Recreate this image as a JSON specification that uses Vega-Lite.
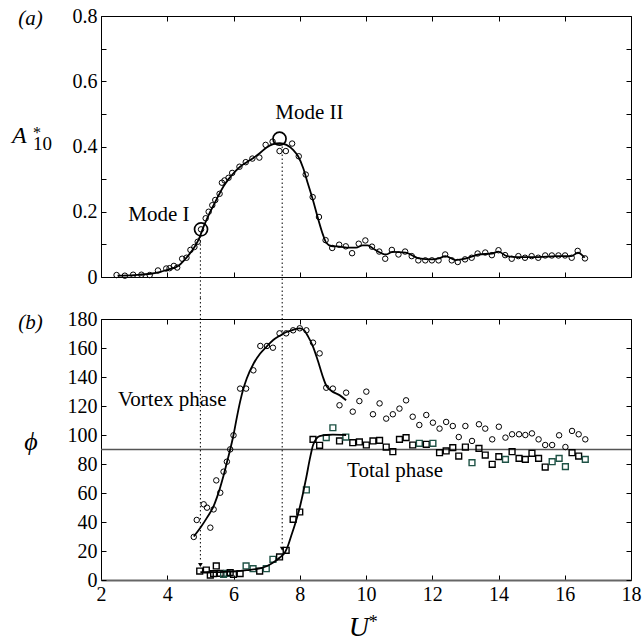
{
  "$schema": "https://vega.github.io/schema/vega-lite/v6.json",
  "background": "white",
  "padding": {"left": 11, "top": 5, "right": 5, "bottom": 2},
  "bounds": "flush",
  "spacing": 42,
  "config": {
    "font": "Liberation Serif",
    "view": {"stroke": "black", "strokeWidth": 1},
    "axis": {"labelFont": "Liberation Serif", "labelFontSize": 20, "labelColor": "black", "tickColor": "black", "tickSize": -5, "tickWidth": 1, "domain": false, "grid": false, "labelFlush": false, "labelOverlap": false, "title": null},
    "text": {"font": "Liberation Serif", "color": "black"}
  },
  "datasets": {
    "amp": [
      {"x":2.47,"y":0.006},{"x":2.72,"y":0.004},{"x":2.97,"y":0.007},{"x":3.22,"y":0.007},{"x":3.47,"y":0.006},{"x":3.72,"y":0.02},{"x":3.97,"y":0.026},{"x":4.07,"y":0.027},{"x":4.2,"y":0.034},{"x":4.3,"y":0.029},{"x":4.45,"y":0.056},{"x":4.58,"y":0.059},{"x":4.7,"y":0.083},{"x":4.82,"y":0.092},{"x":4.92,"y":0.108},{"x":5.02,"y":0.146},{"x":5.16,"y":0.18},{"x":5.25,"y":0.2},{"x":5.36,"y":0.22},{"x":5.45,"y":0.236},{"x":5.58,"y":0.255},{"x":5.65,"y":0.289},{"x":5.73,"y":0.296},{"x":5.85,"y":0.304},{"x":5.96,"y":0.319},{"x":6.18,"y":0.338},{"x":6.37,"y":0.352},{"x":6.57,"y":0.363},{"x":6.78,"y":0.366},{"x":6.97,"y":0.405},{"x":7.18,"y":0.415},{"x":7.39,"y":0.386},{"x":7.58,"y":0.386},{"x":7.77,"y":0.409},{"x":7.97,"y":0.37},{"x":8.18,"y":0.314},{"x":8.39,"y":0.245},{"x":8.58,"y":0.184},{"x":8.78,"y":0.113},{"x":8.98,"y":0.089},{"x":9.19,"y":0.099},{"x":9.39,"y":0.094},{"x":9.58,"y":0.073},{"x":9.78,"y":0.102},{"x":9.98,"y":0.112},{"x":10.18,"y":0.093},{"x":10.4,"y":0.078},{"x":10.58,"y":0.056},{"x":10.78,"y":0.083},{"x":10.98,"y":0.069},{"x":11.18,"y":0.078},{"x":11.38,"y":0.064},{"x":11.58,"y":0.051},{"x":11.79,"y":0.051},{"x":11.99,"y":0.051},{"x":12.19,"y":0.051},{"x":12.39,"y":0.069},{"x":12.59,"y":0.051},{"x":12.77,"y":0.046},{"x":12.99,"y":0.054},{"x":13.19,"y":0.059},{"x":13.37,"y":0.072},{"x":13.6,"y":0.075},{"x":13.8,"y":0.067},{"x":14.0,"y":0.082},{"x":14.2,"y":0.067},{"x":14.4,"y":0.056},{"x":14.6,"y":0.064},{"x":14.8,"y":0.059},{"x":15.0,"y":0.064},{"x":15.2,"y":0.059},{"x":15.41,"y":0.066},{"x":15.61,"y":0.066},{"x":15.81,"y":0.066},{"x":16.01,"y":0.066},{"x":16.21,"y":0.059},{"x":16.39,"y":0.08},{"x":16.61,"y":0.057}
    ],
    "ampfit": [
      {"x":2.5,"y":0.004},{"x":3.0,"y":0.006},{"x":3.5,"y":0.01},{"x":3.8,"y":0.016},{"x":4.0,"y":0.022},{"x":4.2,"y":0.028},{"x":4.35,"y":0.035},{"x":4.5,"y":0.05},{"x":4.65,"y":0.068},{"x":4.8,"y":0.088},{"x":4.95,"y":0.115},{"x":5.1,"y":0.155},{"x":5.25,"y":0.19},{"x":5.4,"y":0.22},{"x":5.55,"y":0.25},{"x":5.7,"y":0.278},{"x":5.85,"y":0.3},{"x":6.0,"y":0.318},{"x":6.2,"y":0.338},{"x":6.4,"y":0.352},{"x":6.6,"y":0.365},{"x":6.8,"y":0.38},{"x":7.0,"y":0.397},{"x":7.2,"y":0.407},{"x":7.4,"y":0.41},{"x":7.6,"y":0.405},{"x":7.8,"y":0.39},{"x":7.95,"y":0.37},{"x":8.1,"y":0.335},{"x":8.25,"y":0.285},{"x":8.4,"y":0.235},{"x":8.55,"y":0.18},{"x":8.7,"y":0.13},{"x":8.8,"y":0.105},{"x":8.95,"y":0.095},{"x":9.2,"y":0.093},{"x":9.5,"y":0.09},{"x":9.7,"y":0.09},{"x":9.9,"y":0.097},{"x":10.05,"y":0.097},{"x":10.25,"y":0.085},{"x":10.6,"y":0.069},{"x":10.8,"y":0.077},{"x":11.2,"y":0.075},{"x":11.4,"y":0.066},{"x":11.6,"y":0.057},{"x":12.0,"y":0.054},{"x":12.2,"y":0.057},{"x":12.4,"y":0.064},{"x":12.7,"y":0.052},{"x":13.0,"y":0.056},{"x":13.4,"y":0.069},{"x":13.8,"y":0.072},{"x":14.0,"y":0.078},{"x":14.25,"y":0.064},{"x":14.55,"y":0.061},{"x":15.2,"y":0.061},{"x":15.75,"y":0.064},{"x":16.2,"y":0.064},{"x":16.4,"y":0.075},{"x":16.6,"y":0.059}
    ],
    "modes": [{"x":5.02,"y":0.146},{"x":7.39,"y":0.424}],
    "dotsA": [{"x":5.0,"y":0.125,"y2":-0.0644},{"x":7.47,"y":0.4,"y2":-0.0644}],
    "annA": [{"x":3.75,"y":0.172,"t":"Mode I"},{"x":8.29,"y":0.484,"t":"Mode II"}],
    "labA": [{"x":-0.13,"y":0.792,"t":"(a)"}],
    "titA": [{"x":-0.684,"y":0.411,"t":"A"}],
    "supA": [{"x":-0.05,"y":0.426,"t":"*"}],
    "subA": [{"x":-0.05,"y":0.389,"t":"10"}],
    "vortex": [
      {"x":4.8,"y":29.7},{"x":4.89,"y":41.4},{"x":5.1,"y":52.2},{"x":5.2,"y":49.9},{"x":5.3,"y":36.1},{"x":5.4,"y":48.7},{"x":5.48,"y":68.7},{"x":5.6,"y":60.2},{"x":5.7,"y":74.7},{"x":5.8,"y":81.6},{"x":5.9,"y":90.1},{"x":6.0,"y":99.8},{"x":6.2,"y":132},{"x":6.38,"y":132},{"x":6.6,"y":144.6},{"x":6.81,"y":161.4},{"x":7.01,"y":161.4},{"x":7.19,"y":160.2},{"x":7.39,"y":170.1},{"x":7.59,"y":170.1},{"x":7.8,"y":172.2},{"x":8.0,"y":173.6},{"x":8.2,"y":172.2},{"x":8.4,"y":163.7},{"x":8.6,"y":156.3},{"x":8.8,"y":132.6},{"x":9.0,"y":132},{"x":9.2,"y":120.5},{"x":9.4,"y":129.2},{"x":9.6,"y":116.1},{"x":9.8,"y":123.4},{"x":10.01,"y":129.9},{"x":10.21,"y":114.3},{"x":10.41,"y":121.8},{"x":10.61,"y":111.3},{"x":10.81,"y":114.3},{"x":11.01,"y":118.2},{"x":11.21,"y":123.9},{"x":11.41,"y":112.6},{"x":11.61,"y":106.9},{"x":11.82,"y":113.8},{"x":12.02,"y":108.5},{"x":12.22,"y":104.4},{"x":12.42,"y":109},{"x":12.62,"y":106.2},{"x":12.8,"y":98.6},{"x":13.0,"y":106.2},{"x":13.2,"y":95.9},{"x":13.41,"y":107.4},{"x":13.6,"y":104.4},{"x":13.81,"y":97},{"x":14.01,"y":105.7},{"x":14.21,"y":98.2},{"x":14.41,"y":100.5},{"x":14.62,"y":100.5},{"x":14.81,"y":100},{"x":15.01,"y":101.1},{"x":15.21,"y":97},{"x":15.41,"y":93.1},{"x":15.62,"y":93.1},{"x":15.83,"y":99.8},{"x":16.02,"y":91.7},{"x":16.22,"y":102.8},{"x":16.42,"y":100.5},{"x":16.62,"y":97}
    ],
    "vortexfit": [
      {"x":4.8,"y":30},{"x":5.0,"y":36},{"x":5.2,"y":43},{"x":5.4,"y":51},{"x":5.5,"y":57},{"x":5.6,"y":64},{"x":5.7,"y":72},{"x":5.8,"y":81},{"x":5.9,"y":90},{"x":6.0,"y":100},{"x":6.1,"y":112},{"x":6.2,"y":123},{"x":6.3,"y":132},{"x":6.4,"y":139},{"x":6.6,"y":149},{"x":6.8,"y":156},{"x":7.0,"y":161},{"x":7.2,"y":165.5},{"x":7.4,"y":168.5},{"x":7.6,"y":171},{"x":7.8,"y":172.5},{"x":8.0,"y":173.5},{"x":8.12,"y":172.5},{"x":8.25,"y":168},{"x":8.4,"y":161},{"x":8.55,"y":151},{"x":8.7,"y":140},{"x":8.8,"y":134},{"x":8.95,"y":130.5},{"x":9.2,"y":127.5},{"x":9.4,"y":124}
    ],
    "total": [
      {"x":4.98,"y":6.2,"g":"k"},{"x":5.18,"y":6.9,"g":"k"},{"x":5.3,"y":3.4,"g":"k"},{"x":5.4,"y":4.4,"g":"k"},{"x":5.48,"y":9.7,"g":"k"},{"x":5.6,"y":4.6,"g":"k"},{"x":5.7,"y":3.9,"g":"g"},{"x":5.8,"y":4.6,"g":"g"},{"x":5.9,"y":5.1,"g":"k"},{"x":6.0,"y":3.9,"g":"k"},{"x":6.2,"y":4.4,"g":"k"},{"x":6.38,"y":9.7,"g":"g"},{"x":6.59,"y":7.8,"g":"g"},{"x":6.79,"y":6.2,"g":"k"},{"x":6.99,"y":7.8,"g":"g"},{"x":7.19,"y":14.3,"g":"g"},{"x":7.39,"y":15.9,"g":"k"},{"x":7.59,"y":20.5,"g":"k"},{"x":7.8,"y":41.8,"g":"k"},{"x":8.0,"y":46.9,"g":"k"},{"x":8.2,"y":62.1,"g":"g"},{"x":8.4,"y":97,"g":"k"},{"x":8.6,"y":92.9,"g":"k"},{"x":8.8,"y":98.2,"g":"g"},{"x":9.0,"y":105,"g":"g"},{"x":9.2,"y":95.9,"g":"k"},{"x":9.39,"y":98.6,"g":"g"},{"x":9.6,"y":94.7,"g":"k"},{"x":9.8,"y":95.2,"g":"k"},{"x":10.01,"y":93.1,"g":"k"},{"x":10.21,"y":95.9,"g":"k"},{"x":10.41,"y":96.3,"g":"k"},{"x":10.61,"y":91.7,"g":"k"},{"x":10.81,"y":88.5,"g":"k"},{"x":11.01,"y":97,"g":"k"},{"x":11.21,"y":98.2,"g":"k"},{"x":11.41,"y":93.1,"g":"k"},{"x":11.61,"y":94.3,"g":"g"},{"x":11.82,"y":93.6,"g":"k"},{"x":12.02,"y":94.3,"g":"g"},{"x":12.22,"y":87.8,"g":"k"},{"x":12.42,"y":89,"g":"k"},{"x":12.62,"y":91.3,"g":"k"},{"x":12.8,"y":85.5,"g":"k"},{"x":13.0,"y":91.7,"g":"k"},{"x":13.2,"y":80.9,"g":"g"},{"x":13.41,"y":90.8,"g":"k"},{"x":13.6,"y":86.2,"g":"k"},{"x":13.81,"y":79.8,"g":"k"},{"x":14.01,"y":85.1,"g":"k"},{"x":14.21,"y":83.2,"g":"g"},{"x":14.41,"y":88.5,"g":"k"},{"x":14.62,"y":83.9,"g":"k"},{"x":14.81,"y":83.2,"g":"k"},{"x":15.01,"y":87.4,"g":"k"},{"x":15.21,"y":83.9,"g":"k"},{"x":15.41,"y":77.9,"g":"k"},{"x":15.62,"y":81.6,"g":"g"},{"x":15.83,"y":83.9,"g":"g"},{"x":16.02,"y":78.2,"g":"g"},{"x":16.22,"y":87.8,"g":"k"},{"x":16.42,"y":85.5,"g":"k"},{"x":16.62,"y":83.2,"g":"g"}
    ],
    "totalfit": [
      {"x":5.0,"y":5.5},{"x":5.5,"y":5.5},{"x":6.0,"y":6},{"x":6.4,"y":6.8},{"x":6.8,"y":8},{"x":7.0,"y":9.5},{"x":7.2,"y":12},{"x":7.4,"y":15.5},{"x":7.55,"y":19},{"x":7.65,"y":24},{"x":7.75,"y":31},{"x":7.85,"y":38},{"x":8.0,"y":50},{"x":8.1,"y":60},{"x":8.2,"y":71},{"x":8.3,"y":83},{"x":8.4,"y":93},{"x":8.5,"y":97.5},{"x":8.6,"y":99.3},{"x":8.8,"y":100},{"x":9.0,"y":100.3},{"x":9.4,"y":100}
    ],
    "hline": [{"y":90}],
    "dotsB": [{"x":5.0,"y":194.5,"y2":12.5},{"x":7.47,"y":194.5,"y2":24}],
    "arrows": [{"x":5.0,"y":10.3},{"x":7.47,"y":21.5}],
    "annB": [{"x":2.51,"y":120,"t":"Vortex phase"},{"x":9.43,"y":71,"t":"Total phase"}],
    "labB": [{"x":-0.13,"y":177.2,"t":"(b)"}],
    "phiB": [{"x":-0.11,"y":95.2,"t":"ϕ"}],
    "titU": [{"x":9.48,"y":-38.5,"t":"U"}],
    "supU": [{"x":10.08,"y":-33,"t":"*"}]
  },
  "vconcat": [
    {
      "width": 530,
      "height": 261,
      "resolve": {"axis": {"x": "independent", "y": "independent"}},
      "layer": [
        {
          "data": {"name": "amp"},
          "mark": {"type": "point", "shape": "circle", "filled": false, "color": "black", "size": 30, "strokeWidth": 1, "opacity": 1},
          "encoding": {
            "x": {"field": "x", "type": "quantitative", "scale": {"domain": [2, 18], "nice": false, "zero": false},
                  "axis": {"orient": "bottom", "values": [2,4,6,8,10,12,14,16,18], "labels": false}},
            "y": {"field": "y", "type": "quantitative", "scale": {"domain": [0, 0.8], "nice": false, "zero": false},
                  "axis": {"orient": "left", "values": [0,0.1,0.2,0.3,0.4,0.5,0.6,0.7,0.8], "labelPadding": 9,
                           "labelExpr": "abs(datum.value*10 - 2*round(datum.value*5)) < 0.01 ? (datum.value == 0 ? '0' : format(datum.value, '.1f')) : ''"}}
          }
        },
        {
          "data": {"name": "ampfit"},
          "mark": {"type": "line", "color": "black", "strokeWidth": 1.8, "interpolate": "monotone"},
          "encoding": {
            "x": {"field": "x", "type": "quantitative", "scale": {"domain": [2, 18], "nice": false, "zero": false},
                  "axis": {"orient": "top", "values": [2,4,6,8,10,12,14,16,18], "labels": false}},
            "y": {"field": "y", "type": "quantitative", "scale": {"domain": [0, 0.8], "nice": false, "zero": false},
                  "axis": {"orient": "right", "values": [0,0.1,0.2,0.3,0.4,0.5,0.6,0.7,0.8], "labels": false}}
          }
        },
        {
          "data": {"name": "modes"},
          "mark": {"type": "point", "shape": "circle", "filled": false, "color": "black", "size": 170, "strokeWidth": 1.7, "opacity": 1},
          "encoding": {
            "x": {"field": "x", "type": "quantitative", "axis": null},
            "y": {"field": "y", "type": "quantitative", "axis": null}
          }
        },
        {
          "data": {"name": "dotsA"},
          "mark": {"type": "rule", "color": "black", "strokeWidth": 1, "strokeDash": [1.5, 2.5]},
          "encoding": {
            "x": {"field": "x", "type": "quantitative", "axis": null},
            "y": {"field": "y", "type": "quantitative", "axis": null},
            "y2": {"field": "y2"}
          }
        },
        {
          "data": {"name": "annA"},
          "mark": {"type": "text", "fontSize": 21, "align": "center", "baseline": "alphabetic"},
          "encoding": {
            "x": {"field": "x", "type": "quantitative", "axis": null},
            "y": {"field": "y", "type": "quantitative", "axis": null},
            "text": {"field": "t"}
          }
        },
        {
          "data": {"name": "labA"},
          "mark": {"type": "text", "fontSize": 21, "fontStyle": "italic", "align": "center", "baseline": "middle"},
          "encoding": {
            "x": {"field": "x", "type": "quantitative", "axis": null},
            "y": {"field": "y", "type": "quantitative", "axis": null},
            "text": {"field": "t"}
          }
        },
        {
          "data": {"name": "titA"},
          "mark": {"type": "text", "fontSize": 24, "fontStyle": "italic", "align": "left", "baseline": "alphabetic"},
          "encoding": {
            "x": {"field": "x", "type": "quantitative", "axis": null},
            "y": {"field": "y", "type": "quantitative", "axis": null},
            "text": {"field": "t"}
          }
        },
        {
          "data": {"name": "supA"},
          "mark": {"type": "text", "fontSize": 16, "align": "left", "baseline": "alphabetic"},
          "encoding": {
            "x": {"field": "x", "type": "quantitative", "axis": null},
            "y": {"field": "y", "type": "quantitative", "axis": null},
            "text": {"field": "t"}
          }
        },
        {
          "data": {"name": "subA"},
          "mark": {"type": "text", "fontSize": 19, "align": "left", "baseline": "alphabetic"},
          "encoding": {
            "x": {"field": "x", "type": "quantitative", "axis": null},
            "y": {"field": "y", "type": "quantitative", "axis": null},
            "text": {"field": "t"}
          }
        }
      ]
    },
    {
      "width": 530,
      "height": 261,
      "resolve": {"axis": {"x": "independent", "y": "independent"}},
      "layer": [
        {
          "data": {"name": "hline"},
          "mark": {"type": "rule", "color": "#555555", "strokeWidth": 1.3},
          "encoding": {
            "y": {"field": "y", "type": "quantitative", "scale": {"domain": [0, 180], "nice": false, "zero": false}, "axis": null}
          }
        },
        {
          "data": {"name": "vortex"},
          "mark": {"type": "point", "shape": "circle", "filled": false, "color": "black", "size": 30, "strokeWidth": 1, "opacity": 1},
          "encoding": {
            "x": {"field": "x", "type": "quantitative", "scale": {"domain": [2, 18], "nice": false, "zero": false},
                  "axis": {"orient": "bottom", "values": [2,4,6,8,10,12,14,16,18], "labelPadding": 9, "domain": true, "domainColor": "#666666", "domainWidth": 2}},
            "y": {"field": "y", "type": "quantitative", "scale": {"domain": [0, 180], "nice": false, "zero": false},
                  "axis": {"orient": "left", "values": [0,20,40,60,80,100,120,140,160,180], "labelPadding": 9}}
          }
        },
        {
          "data": {"name": "vortexfit"},
          "mark": {"type": "line", "color": "black", "strokeWidth": 1.8, "interpolate": "monotone"},
          "encoding": {
            "x": {"field": "x", "type": "quantitative", "scale": {"domain": [2, 18], "nice": false, "zero": false},
                  "axis": {"orient": "top", "values": [2,4,6,8,10,12,14,16,18], "labels": false}},
            "y": {"field": "y", "type": "quantitative", "scale": {"domain": [0, 180], "nice": false, "zero": false},
                  "axis": {"orient": "right", "values": [0,20,40,60,80,100,120,140,160,180], "labels": false}}
          }
        },
        {
          "data": {"name": "total"},
          "mark": {"type": "point", "shape": "square", "filled": false, "size": 34, "strokeWidth": 1.4, "opacity": 1},
          "encoding": {
            "x": {"field": "x", "type": "quantitative", "axis": null},
            "y": {"field": "y", "type": "quantitative", "axis": null},
            "color": {"field": "g", "type": "nominal", "scale": {"domain": ["k", "g"], "range": ["black", "#1e5245"]}, "legend": null}
          }
        },
        {
          "data": {"name": "totalfit"},
          "mark": {"type": "line", "color": "black", "strokeWidth": 1.8, "interpolate": "monotone"},
          "encoding": {
            "x": {"field": "x", "type": "quantitative", "axis": null},
            "y": {"field": "y", "type": "quantitative", "axis": null}
          }
        },
        {
          "data": {"name": "dotsB"},
          "mark": {"type": "rule", "color": "black", "strokeWidth": 1, "strokeDash": [1.5, 2.5]},
          "encoding": {
            "x": {"field": "x", "type": "quantitative", "axis": null},
            "y": {"field": "y", "type": "quantitative", "axis": null},
            "y2": {"field": "y2"}
          }
        },
        {
          "data": {"name": "arrows"},
          "mark": {"type": "point", "shape": "triangle-down", "filled": true, "color": "black", "size": 22, "opacity": 1},
          "encoding": {
            "x": {"field": "x", "type": "quantitative", "axis": null},
            "y": {"field": "y", "type": "quantitative", "axis": null}
          }
        },
        {
          "data": {"name": "annB"},
          "mark": {"type": "text", "fontSize": 21, "align": "left", "baseline": "alphabetic"},
          "encoding": {
            "x": {"field": "x", "type": "quantitative", "axis": null},
            "y": {"field": "y", "type": "quantitative", "axis": null},
            "text": {"field": "t"}
          }
        },
        {
          "data": {"name": "labB"},
          "mark": {"type": "text", "fontSize": 21, "fontStyle": "italic", "align": "center", "baseline": "middle"},
          "encoding": {
            "x": {"field": "x", "type": "quantitative", "axis": null},
            "y": {"field": "y", "type": "quantitative", "axis": null},
            "text": {"field": "t"}
          }
        },
        {
          "data": {"name": "phiB"},
          "mark": {"type": "text", "fontSize": 26, "fontStyle": "italic", "align": "center", "baseline": "middle"},
          "encoding": {
            "x": {"field": "x", "type": "quantitative", "axis": null},
            "y": {"field": "y", "type": "quantitative", "axis": null},
            "text": {"field": "t"}
          }
        },
        {
          "data": {"name": "titU"},
          "mark": {"type": "text", "fontSize": 28, "fontStyle": "italic", "align": "left", "baseline": "alphabetic"},
          "encoding": {
            "x": {"field": "x", "type": "quantitative", "axis": null},
            "y": {"field": "y", "type": "quantitative", "axis": null},
            "text": {"field": "t"}
          }
        },
        {
          "data": {"name": "supU"},
          "mark": {"type": "text", "fontSize": 18, "align": "left", "baseline": "alphabetic"},
          "encoding": {
            "x": {"field": "x", "type": "quantitative", "axis": null},
            "y": {"field": "y", "type": "quantitative", "axis": null},
            "text": {"field": "t"}
          }
        }
      ]
    }
  ]
}
